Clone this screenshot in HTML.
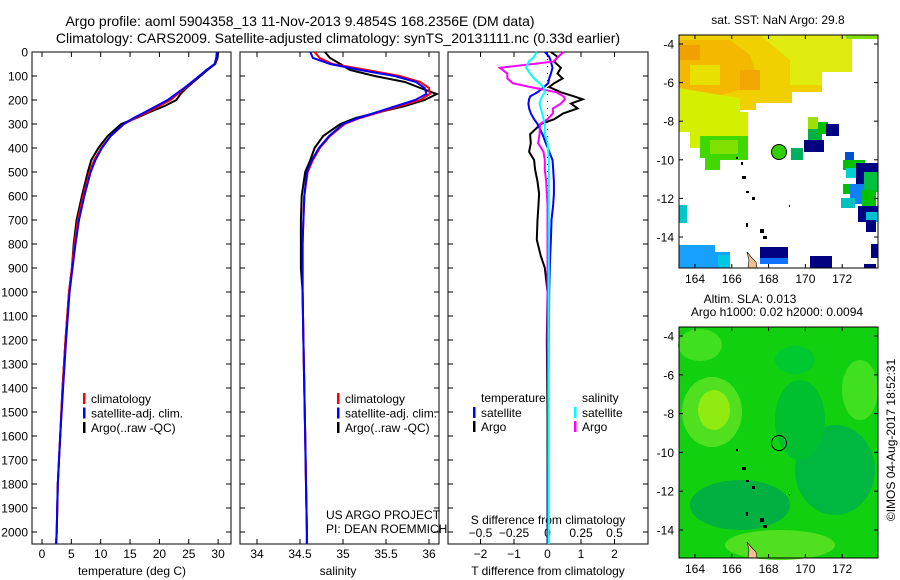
<!DOCTYPE html>
<html><head><meta charset="utf-8"><style>
body{margin:0;background:#fff;}
svg{display:block;font-family:"Liberation Sans",sans-serif;}
text{fill:#000;}
</style></head><body>
<svg id="chart" width="900" height="580" viewBox="0 0 900 580" xmlns="http://www.w3.org/2000/svg">
<text x="300" y="26" font-size="14" text-anchor="middle">Argo profile: aoml 5904358_13 11-Nov-2013 9.4854S 168.2356E (DM data)</text>
<text x="338" y="43" font-size="14" text-anchor="middle">Climatology: CARS2009. Satellite-adjusted climatology: synTS_20131111.nc (0.33d earlier)</text>
<g id="p1"></g>
<g id="p2"></g>
<g id="p3"></g>
<g id="maps">
 <g>
  <text x="778" y="24" font-size="12" text-anchor="middle">sat. SST: NaN Argo: 29.8</text>
  <rect x="679" y="35" width="199" height="233" fill="#fff"/>
  <polygon points="679,35 852,35 852,72 822,72 822,92 792,92 792,103 756,103 756,110 679,110" fill="#f0d000"/>
  <polygon points="679,40 730,40 750,55 760,85 720,95 679,90" fill="#f4b800"/>
  <rect x="680" y="45" width="20" height="15" fill="#f0a000"/>
  <rect x="740" y="70" width="20" height="20" fill="#f0a800"/>
  <polygon points="760,35 852,35 852,72 822,72 822,85 790,85 790,60" fill="#e0ec10"/>
  <rect x="690" y="65" width="30" height="20" fill="#e8e000"/>
  <polygon points="679,88 720,95 740,98 740,112 748,112 748,140 738,140 738,158 700,158 700,148 690,148 690,132 679,132" fill="#d4f000"/>
  <polygon points="700,136 748,136 748,160 720,160 720,170 705,170 705,158 700,158" fill="#40d800"/>
  <rect x="710" y="140" width="28" height="14" fill="#80e000"/>
  <rect x="846" y="35" width="32" height="4" fill="#80e000"/>
  <rect x="808" y="117" width="10" height="12" fill="#9ee000"/>
  <rect x="808" y="129" width="14" height="12" fill="#00b040"/>
  <rect x="818" y="122" width="10" height="12" fill="#00c000"/>
  <rect x="826" y="124" width="13" height="12" fill="#000080"/>
  <rect x="804" y="140" width="20" height="12" fill="#000080"/>
  <rect x="791" y="148" width="12" height="12" fill="#00b060"/>
  <rect x="845" y="152" width="9" height="10" fill="#0050d0"/>
  <rect x="843" y="160" width="22" height="10" fill="#00c000"/>
  <rect x="856" y="163" width="22" height="22" fill="#000080"/>
  <rect x="846" y="168" width="10" height="10" fill="#00d0d0"/>
  <rect x="864" y="172" width="14" height="20" fill="#00c040"/>
  <rect x="843" y="184" width="10" height="10" fill="#00c000"/>
  <rect x="850" y="184" width="14" height="20" fill="#1080ff"/>
  <rect x="841" y="198" width="14" height="10" fill="#00c0c0"/>
  <rect x="862" y="190" width="14" height="16" fill="#00c000"/>
  <rect x="858" y="206" width="20" height="16" fill="#000080"/>
  <rect x="866" y="212" width="12" height="10" fill="#00c0d0"/>
  <rect x="866" y="220" width="10" height="12" fill="#000080"/>
  <rect x="679" y="205" width="8" height="18" fill="#00c8c8"/>
  <polygon points="679,245 715,245 715,252 730,252 730,268 679,268" fill="#18a0ff"/>
  <rect x="718" y="255" width="12" height="13" fill="#00c8e0"/>
  <rect x="760" y="247" width="28" height="15" fill="#000080"/>
  <rect x="760" y="258" width="28" height="6" fill="#1070ff"/>
  <rect x="810" y="256" width="22" height="12" fill="#000080"/>
  <rect x="864" y="264" width="12" height="4" fill="#000080"/>
  <rect x="871" y="244" width="7" height="14" fill="#000080"/>
  <polygon points="747,252 752,258 756,262 757,268 748,268 749,260" fill="#f5c090" stroke="#000" stroke-width="0.6"/>
  <circle cx="779" cy="152" r="7.5" fill="#30d000" stroke="#000" stroke-width="1"/>
  <g fill="#000"><rect x="736" y="157" width="2" height="2"/><rect x="742" y="176" width="4" height="3"/><rect x="746" y="191" width="3" height="2"/><rect x="752" y="197" width="3" height="3"/><rect x="746" y="223" width="2" height="4"/><rect x="760" y="229" width="4" height="4"/><rect x="763" y="236" width="4" height="3"/><rect x="789" y="205" width="1" height="2"/><rect x="741" y="162" width="2" height="3"/></g>
  <rect x="679" y="35" width="199" height="233" fill="none" stroke="#000" stroke-width="1"/>
 </g>
 <g>
  <text x="750" y="303" font-size="12" text-anchor="middle">Altim. SLA: 0.013</text>
  <text x="777" y="316" font-size="12" text-anchor="middle">Argo h1000: 0.02 h2000: 0.0094</text>
  <rect x="679" y="327" width="199" height="231" fill="#10d010"/>
  <ellipse cx="712" cy="412" rx="30" ry="35" fill="#50e020"/>
  <ellipse cx="714" cy="410" rx="16" ry="20" fill="#90ec10"/>
  <ellipse cx="700" cy="345" rx="22" ry="16" fill="#40e020"/>
  <ellipse cx="860" cy="390" rx="18" ry="30" fill="#40e020"/>
  <ellipse cx="835" cy="470" rx="40" ry="45" fill="#00b840"/>
  <ellipse cx="740" cy="505" rx="50" ry="25" fill="#00b040"/>
  <ellipse cx="800" cy="420" rx="25" ry="40" fill="#00c030"/>
  <ellipse cx="780" cy="545" rx="55" ry="15" fill="#50e020"/>
  <ellipse cx="795" cy="360" rx="20" ry="14" fill="#00c830"/>
  <polygon points="747,542 752,548 756,552 757,558 748,558 749,550" fill="#f5c090" stroke="#000" stroke-width="0.6"/>
  <circle cx="779" cy="443" r="7.5" fill="none" stroke="#000" stroke-width="1"/>
  <g fill="#000"><rect x="736" y="449" width="2" height="2"/><rect x="742" y="467" width="4" height="3"/><rect x="746" y="480" width="3" height="2"/><rect x="752" y="486" width="3" height="3"/><rect x="746" y="512" width="2" height="4"/><rect x="760" y="518" width="4" height="4"/><rect x="763" y="525" width="4" height="3"/><rect x="789" y="494" width="1" height="2"/></g>
  <rect x="679" y="327" width="199" height="231" fill="none" stroke="#000" stroke-width="1"/>
 </g>
 <text transform="translate(895,440) rotate(-90)" font-size="12" text-anchor="middle">©IMOS 04-Aug-2017 18:52:31</text>
</g>
</svg>
<script>
// ---- data ----
const depthTicks = [0,100,200,300,400,500,600,700,800,900,1000,1100,1200,1300,1400,1500,1600,1700,1800,1900,2000];
const tempTicks = [0,5,10,15,20,25,30];
const salTicks = [34,34.5,35,35.5,36];
const tdiffTicks = [-2,-1,0,1,2];
const sdiffTicks = [-0.5,-0.25,0,0.25,0.5];
const lonTicks = [164,166,168,170,172];
const latTicks = [-4,-6,-8,-10,-12,-14];

const depths = [0,25,50,75,100,125,150,175,200,225,250,275,300,350,400,450,500,600,700,800,900,1000,1200,1400,1600,1800,2000,2050];
const tempClim = [29.8,29.7,29.4,28.0,26.8,25.6,24.4,23.1,21.9,20.0,18.0,15.9,14.0,11.7,10.1,8.9,8.1,7.0,6.1,5.5,5.1,4.6,4.0,3.5,3.1,2.7,2.5,2.4];
const tempSat  = [29.8,29.7,29.4,28.0,26.8,25.5,24.2,22.8,21.4,19.5,17.6,15.6,13.9,11.7,10.2,9.1,8.3,7.2,6.3,5.7,5.2,4.7,4.1,3.6,3.1,2.7,2.5,2.4];
const tempArgo = [30.0,29.9,29.5,28.2,27.0,25.8,24.6,23.6,22.9,20.9,18.4,16.1,13.5,11.2,9.6,8.4,7.8,6.8,5.9,5.4,5.1,4.6,4.0,3.5,3.1,2.7,2.5,2.4];
const salClim = [34.67,34.73,34.88,35.28,35.66,35.90,36.00,36.01,35.90,35.66,35.43,35.20,35.02,34.85,34.73,34.65,34.59,34.55,34.54,34.53,34.53,34.53,34.54,34.55,34.56,34.57,34.58,34.58];
const salSat  = [34.62,34.65,34.85,35.20,35.60,35.85,35.95,35.97,35.84,35.62,35.40,35.18,35.00,34.84,34.72,34.64,34.58,34.55,34.54,34.53,34.53,34.53,34.54,34.55,34.56,34.57,34.58,34.58];
const salArgo = [34.79,34.85,34.97,35.08,35.37,35.72,35.90,36.09,35.95,35.72,35.43,35.15,34.97,34.77,34.67,34.62,34.56,34.52,34.51,34.51,34.51,34.53,34.54,34.55,34.56,34.57,34.58,34.58];

const diffDepths = [0,20,40,66,90,110,130,146,168,185,197,215,235,256,280,300,343,380,416,450,490,540,590,636,700,782,850,899,1000,1200,1500,1800,2050];
const tdiffArgo = [0.1,0.3,0.2,0.4,0.3,0.45,0.2,0.05,0.4,0.8,1.05,0.7,0.9,0.47,0.2,-0.2,-0.52,-0.5,-0.55,-0.4,-0.37,-0.3,-0.25,-0.27,-0.3,-0.32,-0.2,-0.08,0,-0.02,0,0,0];
const tdiffSat  = [-0.08,0.05,0.1,0.15,0.1,0.05,0.02,-0.1,-0.3,-0.52,-0.55,-0.57,-0.55,-0.5,-0.4,-0.3,-0.15,-0.05,0.05,0.15,0.17,0.19,0.19,0.17,0.12,0.1,0.08,0.07,0.05,0.04,0.02,0.01,0.01];
const sdiffArgo = [0.12,0.08,0.045,-0.355,-0.3,-0.3,-0.26,-0.13,0.067,0.12,0.13,0.1,0.04,0.04,0.0,-0.055,-0.06,-0.07,-0.03,-0.02,-0.02,-0.01,-0.005,0,0,0,0,0,0,0,0.005,0.005,0.005];
const sdiffSat  = [-0.08,-0.1,-0.14,-0.16,-0.13,-0.1,-0.06,-0.03,-0.02,-0.04,-0.05,-0.06,-0.05,-0.04,-0.03,-0.02,-0.02,0,0.005,0.01,0.01,0.01,0.01,0.01,0.01,0.01,0.01,0.01,0.01,0.01,0.01,0.01,0.01];

// ---- geometry ----
const NS = "http://www.w3.org/2000/svg";
const svg = document.getElementById('chart');
const TOP = 52, BOT = 544;
const yD = d => TOP + d * (BOT - TOP) / 2050;
const xT = t => 42 + t * 5.87;
const xS = s => 257 + (s - 34) * 86;
const xTD = v => 547.5 + v * 33.5;
const xSD = v => 547.5 + v * 134;
const lonX = l => 695 + (l - 164) * 18.4;
const latY1 = l => 44 + (-4 - l) * 19.3;
const latY2 = l => 336 + (-4 - l) * 19.4;

function mk(tag, attrs, parent, txt){
  const e = document.createElementNS(NS, tag);
  for (const k in attrs) e.setAttribute(k, attrs[k]);
  if (txt !== undefined) e.textContent = txt;
  (parent || svg).appendChild(e);
  return e;
}
function line(xs, ds, xf, color, parent, name){
  const pts = xs.map((v,i)=> xf(v).toFixed(1)+','+yD(ds[i]).toFixed(1)).join(' ');
  const p = mk('polyline', {points: pts, fill:'none', stroke: color, 'stroke-width': 2}, parent);
  
  
}
function frame(x0, x1, parent){
  mk('rect', {x:x0, y:TOP, width:x1-x0, height:BOT-TOP, fill:'none', stroke:'#000', 'stroke-width':1}, parent);
  depthTicks.forEach(d => {
    mk('line', {x1:x0, x2:x0+5, y1:yD(d), y2:yD(d), stroke:'#000'}, parent);
    mk('line', {x1:x1-5, x2:x1, y1:yD(d), y2:yD(d), stroke:'#000'}, parent);
  });
}
function xticks(vals, f, parent, ylab, fmt){
  vals.forEach(v => {
    const x = f(v);
    mk('line', {x1:x, x2:x, y1:BOT, y2:BOT-5, stroke:'#000'}, parent);
    mk('line', {x1:x, x2:x, y1:TOP, y2:TOP+5, stroke:'#000'}, parent);
    const t = mk('text', {x:x, y:ylab, 'font-size':12, 'text-anchor':'middle'}, parent, fmt ? fmt(v) : String(v).replace('-', '\u2212'));
    
    
  });
}
function legend(parent, x, entries){
  entries.forEach((e,i) => {
    const y = 402 + i*14.5;
    mk('rect', {x:x, y:y-9, width:2.5, height:11, fill:e[1]}, parent);
    const t = mk('text', {x:x+8, y:y+1, 'font-size':12}, parent, e[0]);
    
    
  });
}

// panel 1
const p1 = document.getElementById('p1');
frame(32, 231, p1);
depthTicks.forEach(d => {
  const t = mk('text', {x:28, y:yD(d)+4.5, 'font-size':12, 'text-anchor':'end'}, p1, String(d));
  
  
});
xticks(tempTicks, xT, p1, 558);
const xl1 = mk('text', {x:132, y:575, 'font-size':12, 'text-anchor':'middle'}, p1, 'temperature (deg C)');


line(tempArgo, depths, xT, '#000', p1, 'temp-argo-line');
line(tempClim, depths, xT, '#f00', p1, 'temp-clim-line');
line(tempSat, depths, xT, '#00f', p1, 'temp-sat-line');
legend(p1, 83, [['climatology','#f00'],['satellite-adj. clim.','#00f'],['Argo(..raw -QC)','#000']]);

// panel 2
const p2 = document.getElementById('p2');
frame(240, 439, p2);
xticks(salTicks, xS, p2, 558);
const xl2 = mk('text', {x:338, y:575, 'font-size':12, 'text-anchor':'middle'}, p2, 'salinity');


line(salArgo, depths, xS, '#000', p2, 'sal-argo-line');
line(salClim, depths, xS, '#f00', p2, 'sal-clim-line');
line(salSat, depths, xS, '#00f', p2, 'sal-sat-line');
legend(p2, 337, [['climatology','#f00'],['satellite-adj. clim.','#00f'],['Argo(..raw -QC)','#000']]);
const c1 = mk('text', {x:326, y:519, 'font-size':12}, p2, 'US ARGO PROJECT');


const c2 = mk('text', {x:326, y:533, 'font-size':12}, p2, 'PI: DEAN ROEMMICH');



// panel 3
const p3 = document.getElementById('p3');
frame(448, 648, p3);
xticks(tdiffTicks, xTD, p3, 558);
sdiffTicks.forEach(v => {
  const t = mk('text', {x:xSD(v), y:537, 'font-size':12, 'text-anchor':'middle'}, p3, String(v).replace('-', '\u2212'));
  
  
});
const st = mk('text', {x:548, y:524, 'font-size':12, 'text-anchor':'middle'}, p3, 'S difference from climatology');


const tt = mk('text', {x:548, y:575, 'font-size':12, 'text-anchor':'middle'}, p3, 'T difference from climatology');


mk('line', {x1:547.5, x2:547.5, y1:TOP, y2:BOT, stroke:'#000', 'stroke-dasharray':'1,6'}, p3);
line(tdiffArgo, diffDepths, xTD, '#000', p3, 'tdiff-argo-line');
line(tdiffSat, diffDepths, xTD, '#00f', p3, 'tdiff-sat-line');
line(sdiffArgo, diffDepths, xSD, '#f0f', p3, 'sdiff-argo-line');
line(sdiffSat, diffDepths, xSD, '#0ff', p3, 'sdiff-sat-line');
const lt = mk('text', {x:481, y:402, 'font-size':12}, p3, 'temperature');


const ls = mk('text', {x:582, y:402, 'font-size':12}, p3, 'salinity');


[['satellite','#00f',473,416],['Argo','#000',473,430],['satellite','#0ff',574,416],['Argo','#f0f',574,430]].forEach(e => {
  mk('rect', {x:e[2], y:e[3]-9, width:2.5, height:11, fill:e[1]}, p3);
  const t = mk('text', {x:e[2]+8, y:e[3]+1, 'font-size':12}, p3, e[0]);
  
  
});

// map ticks
const maps = document.getElementById('maps');
[[35,268,latY1,283],[327,558,latY2,573]].forEach(m => {
  lonTicks.forEach(l => {
    const x = lonX(l);
    mk('line', {x1:x, x2:x, y1:m[1], y2:m[1]-4, stroke:'#000'}, maps);
    mk('line', {x1:x, x2:x, y1:m[0], y2:m[0]+4, stroke:'#000'}, maps);
    const t = mk('text', {x:x, y:m[3], 'font-size':12, 'text-anchor':'middle'}, maps, String(l));
    
    
  });
  latTicks.forEach(l => {
    const y = m[2](l);
    mk('line', {x1:679, x2:683, y1:y, y2:y, stroke:'#000'}, maps);
    mk('line', {x1:874, x2:878, y1:y, y2:y, stroke:'#000'}, maps);
    const t = mk('text', {x:674, y:y+4.5, 'font-size':12, 'text-anchor':'end'}, maps, String(l));
    
    
  });
});
</script>
</body></html>
